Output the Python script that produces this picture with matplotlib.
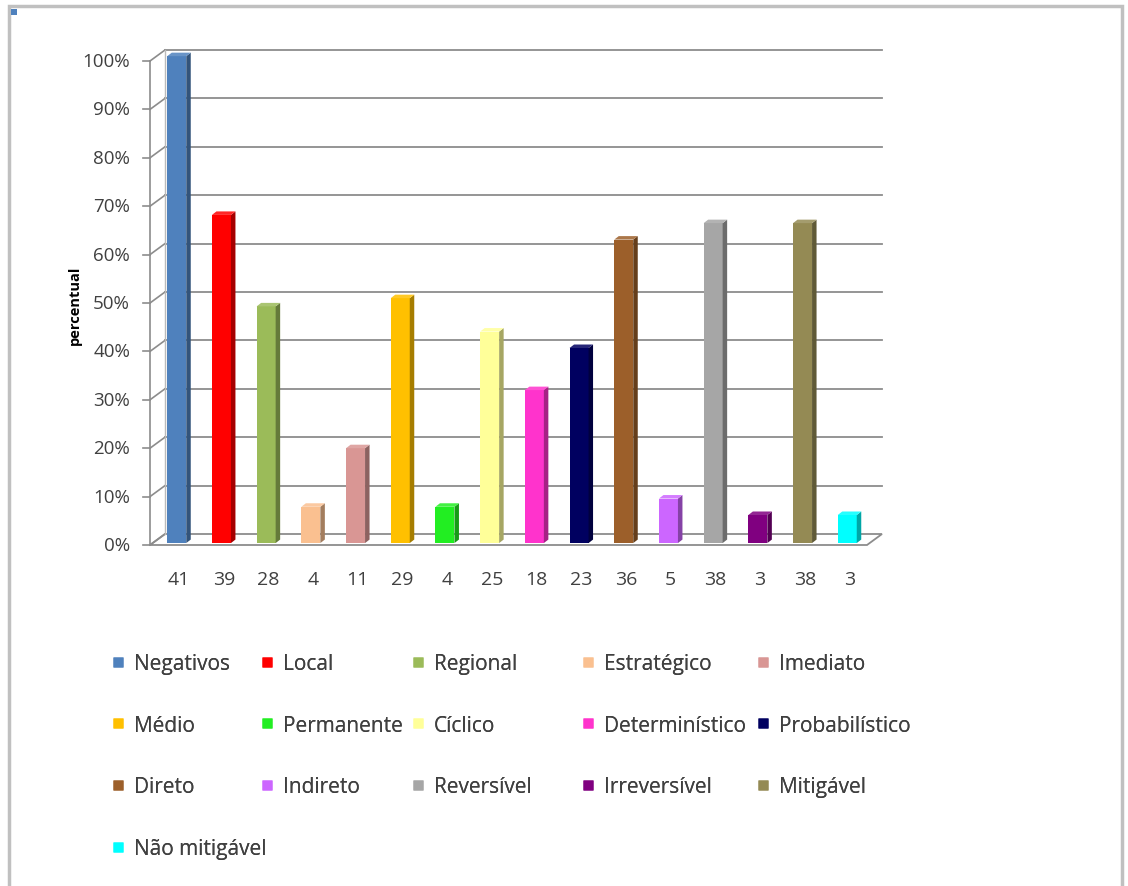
import matplotlib
matplotlib.use("Agg")
import matplotlib.pyplot as plt
import matplotlib.colors as mcolors
from matplotlib.patches import Polygon, Rectangle
from matplotlib.lines import Line2D

plt.rcParams['font.family'] = ['Open Sans', 'DejaVu Sans']

# data
categories = ['Negativos', 'Local', 'Regional', 'Estratégico', 'Imediato',
              'Médio', 'Permanente', 'Cíclico', 'Determinístico', 'Probabilístico',
              'Direto', 'Indireto', 'Reversível', 'Irreversível', 'Mitigável',
              'Não mitigável']
counts = [41, 39, 28, 4, 11, 29, 4, 25, 18, 23, 36, 5, 38, 3, 38, 3]
percent = [100, 67.2, 48.3, 6.9, 19.0, 50.0, 6.9, 43.1, 31.0, 39.7,
           62.1, 8.6, 65.5, 5.2, 65.5, 5.2]
colors = ['#4F81BD', '#FF0000', '#9BBB59', '#FAC090', '#D99694',
          '#FFC000', '#22EE22', '#FFFF99', '#FF33CC', '#000060',
          '#9C5F2A', '#CC66FF', '#A6A6A6', '#800080', '#948A54',
          '#00FFFF']
yticks = [0, 10, 20, 30, 40, 50, 60, 70, 80, 90, 100]

W, H = 1128, 887
fig = plt.figure(figsize=(W / 100, H / 100), dpi=100)

# axes in pixel terms
px_left, px_right, px_y0, px_y1 = 150, 882, 546, 62
ax = fig.add_axes([px_left / W, (H - px_y0) / H,
                   (px_right - px_left) / W, (px_y0 - px_y1) / H])
step = 44.7
x0 = -(179 - px_left) / step
x1 = (px_right - 179) / step
ax.set_xlim(x0, x1)
ax.set_ylim(0, 100)
ax.axis('off')

dxb = 15 / step                 # depth offset in x
dyb = 11 / (px_y0 - px_y1) * 100  # depth offset in y
grid_c = '#8C8C8C'
txt_c = '#404040'

# floor
floor = Polygon([(x0, 0), (x1 - dxb, 0), (x1, dyb), (x0 + dxb, dyb)],
                closed=True, facecolor='white', edgecolor=grid_c, lw=1.3,
                clip_on=False, zorder=1)
ax.add_patch(floor)

# gridlines on back wall, ticks and diagonals on side
for v in yticks:
    if v > 0:
        ax.plot([x0 + dxb, x1], [v + dyb, v + dyb], color=grid_c, lw=1.3,
                clip_on=False, zorder=1)
    ax.plot([x0, x0 + dxb], [v, v + dyb], color=grid_c, lw=1.2,
            clip_on=False, zorder=1)
    ax.plot([x0 - 7 / step, x0], [v, v], color=grid_c, lw=1.2,
            clip_on=False, zorder=1)
    ax.text(x0 - 20 / step, v, f'{v}%', ha='right', va='center',
            fontsize=13.5, color=txt_c)
ax.plot([x0, x0], [0, 100], color=grid_c, lw=1.2, clip_on=False, zorder=1)
ax.plot([x0 + dxb, x0 + dxb], [dyb, 100 + dyb], color='#BBBBBB', lw=1.0,
        clip_on=False, zorder=1)

# pseudo 3d bars
fw = 19 / step
sdx = 4.5 / step
sdy = 3.5 / (px_y0 - px_y1) * 100
base = 0.4
lift = 1.0
for i, (p, c) in enumerate(zip(percent, colors)):
    xl = i - (fw + sdx) / 2
    xr = xl + fw
    top = p + lift
    rgb = mcolors.to_rgb(c)
    dark = tuple(k * 0.65 for k in rgb)
    light = tuple(min(1, k * 0.85 + 0.15) for k in rgb)
    ax.add_patch(Rectangle((xl, base), fw, top - base, facecolor=c,
                           edgecolor='none', zorder=3, clip_on=False))
    ax.add_patch(Polygon([(xr, base), (xr + sdx, base + sdy),
                          (xr + sdx, top + sdy), (xr, top)],
                         closed=True, facecolor=dark, edgecolor='none',
                         zorder=3, clip_on=False))
    ax.add_patch(Polygon([(xl, top), (xr, top), (xr + sdx, top + sdy),
                          (xl + sdx, top + sdy)],
                         closed=True, facecolor=light, edgecolor='none',
                         zorder=3, clip_on=False))
    ax.text(i, -7, str(counts[i]), ha='center', va='center',
            fontsize=14, color=txt_c)

fig.text(75 / W, 1 - 305 / H, 'percentual', rotation=90, ha='center',
         va='center', fontsize=10.5, fontweight='bold', color='black')

# legend: one block per column so the columns sit where the original has them
ncol = 5
col_x = [113, 262, 413, 583, 758]
for col in range(ncol):
    idx = list(range(col, len(categories), ncol))
    handles = [Line2D([], [], marker='s', linestyle='none', markersize=7,
                      markerfacecolor=colors[k], markeredgecolor='none')
               for k in idx]
    leg = fig.legend(handles, [categories[k] for k in idx], loc='upper left',
                     bbox_to_anchor=(col_x[col] / W, 1 - 654 / H),
                     frameon=False, borderpad=0, borderaxespad=0,
                     fontsize=15, labelspacing=1.95,
                     handlelength=0.5, handletextpad=0.5, labelcolor=txt_c)
    fig.add_artist(leg)

# outer frame and corner square
fig.patches.append(Rectangle((9 / W, -0.02), (1122 - 9) / W, 1.02 - 7 / H,
                             transform=fig.transFigure, fill=False,
                             edgecolor='#C0C0C0', lw=2.5))
fig.patches.append(Rectangle((11 / W, 1 - 16 / H), 6 / W, 6 / H,
                             transform=fig.transFigure, facecolor='#4F81BD',
                             edgecolor='none'))

fig.savefig('out.png', dpi=100, facecolor='white')
